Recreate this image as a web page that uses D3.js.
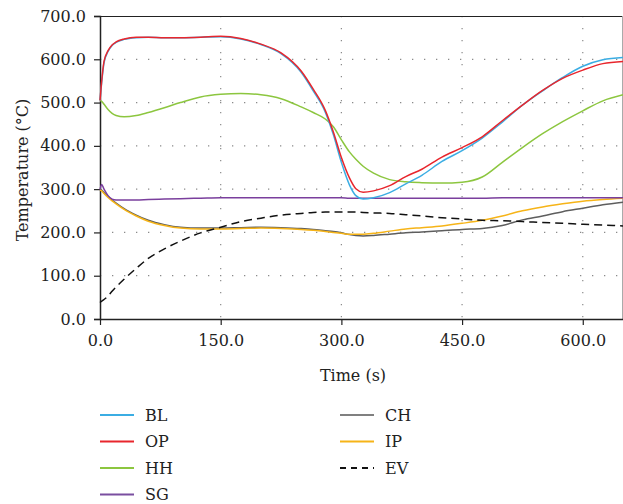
<!DOCTYPE html>
<html><head><meta charset="utf-8">
<script src="https://cdn.jsdelivr.net/npm/d3@7"></script>
<style>body{margin:0;background:#fff}svg{display:block}</style>
</head><body>
<script>
const times = [0,2,5,10,15,20,30,45,60,80,100,125,150,175,200,225,250,265,280,290,300,310,318,327,340,360,380,400,425,450,475,500,525,550,575,600,625,650];
const BL = [505,545,592,618,632,639,646,650,651,650,650,651,652,647,634,613,570,527,478,426,362,310,285,277,280,292,312,332,364,389,418,455,494,527,558,584,599,604];
const OP = [505,548,595,620,633,640,647,651,651,650,650,651,653,648,635,615,573,531,482,432,373,326,301,293,296,308,329,346,374,396,421,458,494,528,556,575,590,595];
const HH = [505,503,496,484,475,470,467,470,477,488,500,513,519,521,518,509,490,477,462,444,414,386,369,353,337,322,317,315,314,316,328,362,396,428,456,481,504,518];
const SG = [299,311,300,285,277,275,275,275,276,277,278,279,280,280,280,280,280,280,280,280,280,279,279,279,279,279,279,279,279,279,279,280,280,280,280,280,280,280];
const CH = [300,298,292,283,275,268,255,240,228,218,212,210,210,211,212,211,209,207,204,202,199,195,193,192,193,196,199,201,204,207,209,216,229,238,248,256,264,270];
const IP = [298,296,290,281,273,266,253,238,226,216,210,208,208,209,210,209,207,205,202,200,198,196,196,196,198,203,208,211,215,221,228,238,250,259,266,272,276,279];
const EV = [38,41,45,53,64,74,92,117,140,162,180,199,212,225,233,240,244,246,247,247,247,247,247,246,245,244,241,238,234,231,228,227,225,223,221,219,217,215];

const xTicks = [0,150,300,450,600];
const yTicks = [0,100,200,300,400,500,600,700];
const seriesNames = ["BL","OP","HH","SG","CH","IP","EV"];
const seriesData = {BL,OP,HH,SG,CH,IP,EV};
const colors = {BL:"#3bade3",OP:"#e8262d",HH:"#8cc63f",SG:"#7a3f9d",CH:"#5e5e5e",IP:"#f6b418",EV:"#111111"};
const legendColors = {BL:"#3bade3",OP:"#e8262d",HH:"#8cc63f",SG:"#7a4fa0",CH:"#808080",IP:"#f6b418",EV:"#111111"};

const W = 623, H = 504;
const font = "'DejaVu Serif', serif";
const svg = d3.select("body").append("svg").attr("width",W).attr("height",H);

const x = d3.scaleLinear().domain([0,650]).range([100,623]);
const y = d3.scaleLinear().domain([0,700]).range([319,16]);

// grid
const grid = svg.append("g").attr("stroke","#8a8a8a").attr("stroke-width",1.2).attr("stroke-dasharray","1.3,10.7");
grid.selectAll(".gv").data(xTicks.filter(d=>d>0)).join("line")
  .attr("x1",d=>x(d)).attr("x2",d=>x(d)).attr("y1",y(700)).attr("y2",y(0));
grid.selectAll(".gh").data(yTicks.filter(d=>d>0&&d<700)).join("line")
  .attr("x1",x(0)).attr("x2",x(650)).attr("y1",d=>y(d)).attr("y2",d=>y(d));

// frame top/right
svg.append("line").attr("x1",x(0)).attr("x2",x(650)).attr("y1",y(700)+0.5).attr("y2",y(700)+0.5).attr("stroke","#222").attr("stroke-width",1);
svg.append("line").attr("x1",622.5).attr("x2",622.5).attr("y1",y(700)).attr("y2",y(0)).attr("stroke","#aaa").attr("stroke-width",1);

// axes
const xAxis = svg.append("g").attr("transform",`translate(0,${y(0)})`)
  .call(d3.axisBottom(x).tickValues(xTicks).tickFormat(d3.format(".1f")).tickSize(6).tickPadding(10));
const yAxis = svg.append("g").attr("transform",`translate(${x(0)},0)`)
  .call(d3.axisLeft(y).tickValues(yTicks).tickFormat(d3.format(".1f")).tickSize(6).tickPadding(8));
[xAxis,yAxis].forEach(a=>{
  a.select(".domain").attr("stroke","#222").attr("stroke-width",1.5);
  a.selectAll(".tick line").attr("stroke","#222").attr("stroke-width",1.2);
  a.selectAll("text").attr("font-family",font).attr("font-size",16).attr("fill","#222");
});
xAxis.select(".domain").attr("d",`M${x(0)},0.5H${x(650)}`);

// labels
svg.append("text").attr("x",353).attr("y",381).attr("text-anchor","middle")
  .attr("font-family",font).attr("font-size",16).attr("fill","#222").text("Time (s)");
svg.append("text").attr("transform","translate(28,170) rotate(-90)").attr("text-anchor","middle")
  .attr("font-family",font).attr("font-size",16).attr("fill","#222").text("Temperature (°C)");

// lines
const line = d3.line().x((d,i)=>x(times[i])).y(d=>y(d)).curve(d3.curveMonotoneX);
const drawOrder = ["CH","IP","SG","HH","BL","OP","EV"];
svg.append("g").selectAll("path").data(drawOrder).join("path")
  .attr("d",k=>line(seriesData[k]))
  .attr("fill","none")
  .attr("stroke",k=>colors[k])
  .attr("stroke-width",1.5)
  .attr("stroke-dasharray",k=>k==="EV"?"8,5":null);

// legend
const legItems = seriesNames.map((k,i)=>({k, col: i<4?0:1, row: i<4?i:i-4}));
const lg = svg.append("g");
const colX = [100,340];
legItems.forEach(d=>{
  const yy = 415 + d.row*26.5;
  lg.append("line").attr("x1",colX[d.col]).attr("x2",colX[d.col]+34).attr("y1",yy).attr("y2",yy)
    .attr("stroke",legendColors[d.k]).attr("stroke-width",2)
    .attr("stroke-dasharray",d.k==="EV"?"6,5":null);
  lg.append("text").attr("x",colX[d.col]+45).attr("y",yy+5.5)
    .attr("font-family",font).attr("font-size",16).attr("fill","#222").text(d.k);
});
</script>
</body></html>
